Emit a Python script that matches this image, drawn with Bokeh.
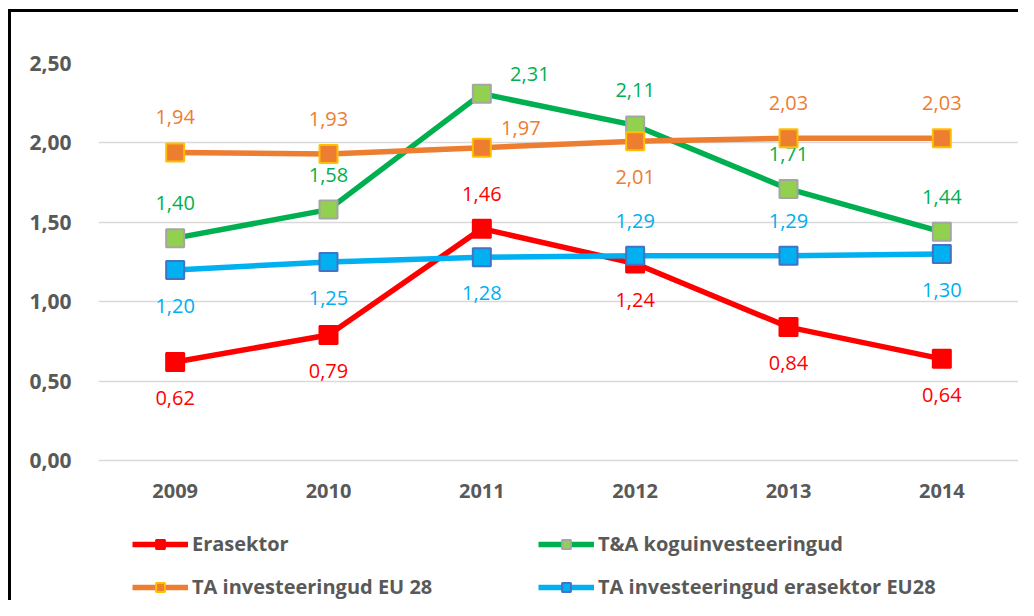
from bokeh.plotting import figure
from bokeh.models import (ColumnDataSource, FactorRange, Range1d, Legend, LegendItem,
                          CustomJSTickFormatter, FixedTicker)
from bokeh.core.properties import value
from bokeh.embed import file_html
from bokeh.resources import INLINE

years = ["2009", "2010", "2011", "2012", "2013", "2014"]
erasektor = [0.62, 0.79, 1.46, 1.24, 0.84, 0.64]
ta_kogu = [1.40, 1.58, 2.31, 2.11, 1.71, 1.44]
ta_eu28 = [1.94, 1.93, 1.97, 2.01, 2.03, 2.03]
ta_era_eu28 = [1.20, 1.25, 1.28, 1.29, 1.29, 1.30]
y_ticks = [0.0, 0.5, 1.0, 1.5, 2.0, 2.5]

# label placement per point
pos_erasektor = ["below", "below", "above", "below", "below", "below"]
pos_ta_kogu = ["above", "above", "right", "above", "above", "above"]
pos_ta_eu28 = ["above", "above", "right_near", "below", "above", "above"]
pos_ta_era = ["below", "below", "below", "above", "above", "below"]

series = [
    ("Erasektor", erasektor, pos_erasektor, "#FF0000", "#FF0000", "#FF0000", "#FF0000"),
    ("T&A koguinvesteeringud", ta_kogu, pos_ta_kogu, "#00B050", "#92D050", "#A5A5A5", "#00B050"),
    ("TA investeeringud EU 28", ta_eu28, pos_ta_eu28, "#ED7D31", "#ED7D31", "#FFC000", "#ED7D31"),
    ("TA investeeringud erasektor EU28", ta_era_eu28, pos_ta_era, "#00B0F0", "#00B0F0", "#4472C4", "#00B0F0"),
]

FONT = "Open Sans"
GRAY = "#595959"

p = figure(width=1018, height=600, x_range=FactorRange(*years), y_range=Range1d(-0.882, 2.5),
           output_backend="svg", toolbar_location=None, x_axis_location="above",
           min_border_left=98, min_border_right=0, min_border_top=63, min_border_bottom=0)
p.outline_line_color = None
p.border_fill_alpha = 0
p.background_fill_color = "white"
p.styles = {
    "background": "linear-gradient(#000, #000) 8px 9px / 3px 100% no-repeat, "
                  "linear-gradient(#000, #000) 8px 9px / 100% 3px no-repeat, #fff"
}

p.xgrid.grid_line_color = None
p.ygrid.grid_line_color = "#D9D9D9"
p.ygrid.grid_line_width = 1.5

p.yaxis.ticker = FixedTicker(ticks=y_ticks)
p.yaxis.formatter = CustomJSTickFormatter(code="return tick.toFixed(2).replace('.', ',');")
for ax in (p.xaxis, p.yaxis):
    ax.axis_line_color = None
    ax.major_tick_line_color = None
    ax.minor_tick_line_color = None
    ax.major_label_text_font = FONT
    ax.major_label_text_font_style = "bold"
    ax.major_label_text_font_size = "20px"
    ax.major_label_text_color = GRAY
p.yaxis.major_label_text_font_size = "21px"
p.yaxis.major_label_standoff = 21
p.xaxis.fixed_location = -0.305
p.xaxis.major_label_standoff = 5

offsets = {"above": (0, -35), "below": (0, 36), "right": (48, -20), "right_near": (39, -20)}

items = []
for name, vals, pos, lc, fc, bc, tc in series:
    src = ColumnDataSource(dict(
        x=years, y=vals,
        label=[f"{v:.2f}".replace(".", ",") for v in vals],
        xo=[offsets[q][0] for q in pos],
        yo=[offsets[q][1] for q in pos],
    ))
    r1 = p.line("x", "y", source=src, line_color=lc, line_width=5.5)
    r2 = p.scatter("x", "y", source=src, marker="square", size=18, fill_color=fc,
                   line_color=bc, line_width=2)
    p.text("x", "y", text="label", source=src, x_offset="xo", y_offset="yo",
           text_font=value(FONT), text_font_size="20px", text_color=tc,
           text_align="center", text_baseline="middle")
    items.append(LegendItem(label=name, renderers=[r1, r2]))

leg = Legend(items=[items[0], items[2], items[1], items[3]], ncols=2,
             location=(34, 0),
             glyph_width=56, glyph_height=22, label_height=22, label_standoff=4, label_width=330,
             padding=0, margin=0, spacing=16,
             border_line_color=None, background_fill_alpha=0,
             label_text_font=FONT, label_text_font_style="bold",
             label_text_font_size="20px", label_text_color=GRAY)
p.add_layout(leg)

open("out.html", "w").write(file_html(p, INLINE))
